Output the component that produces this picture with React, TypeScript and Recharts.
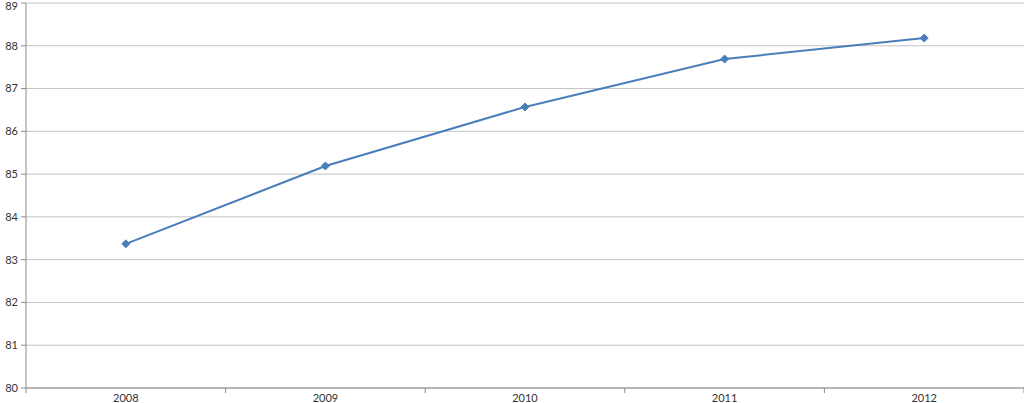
import React from "react";
import { LineChart, Line, XAxis, YAxis, CartesianGrid } from "recharts";

const YEARS = ["2008", "2009", "2010", "2011", "2012"];
const VALUES = [83.37, 85.19, 86.57, 87.69, 88.18];
const Y_TICKS = [80, 81, 82, 83, 84, 85, 86, 87, 88, 89];

const data = YEARS.map((year, i) => ({ year, value: VALUES[i] }));

const W = 1024;
const H = 403;
const LEFT = 26;
const HALF_BAND = (W - LEFT) / YEARS.length / 2;
const FONT = "Lato, 'Open Sans', sans-serif";

function XTick(props: any) {
  const { x, y, payload, index } = props;
  const last = index === YEARS.length - 1;
  return (
    <g>
      <line x1={x - HALF_BAND} x2={x - HALF_BAND} y1={y - 8} y2={y - 3} stroke="#8c8c8c" />
      {last && <line x1={x + HALF_BAND} x2={x + HALF_BAND} y1={y - 8} y2={y - 3} stroke="#8c8c8c" />}
      <text x={x} y={y + 6} textAnchor="middle" fill="#333" fontSize={11} fontFamily={FONT}>
        {payload.value}
      </text>
    </g>
  );
}

function Diamond(props: any) {
  const { cx, cy } = props;
  const r = 4;
  return (
    <polygon
      points={`${cx},${cy - r} ${cx + r},${cy} ${cx},${cy + r} ${cx - r},${cy}`}
      fill="#4a7ebb"
      stroke="#4a7ebb"
    />
  );
}

export default function App() {
  return (
    <div style={{ position: "absolute", left: 0, top: 0, background: "#fff" }}>
      <LineChart width={W} height={H} data={data} margin={{ top: 3, right: 0, bottom: 0, left: 0 }}>
        <CartesianGrid vertical={false} stroke="#c4c4c4" />
        <XAxis
          dataKey="year"
          scale="band"
          height={15}
          tickLine={false}
          axisLine={{ stroke: "#8c8c8c" }}
          tick={<XTick />}
          interval={0}
        />
        <YAxis
          domain={[80, 89]}
          ticks={Y_TICKS}
          width={LEFT}
          tickSize={5}
          tickMargin={3}
          axisLine={{ stroke: "#8c8c8c" }}
          tickLine={{ stroke: "#8c8c8c" }}
          tick={{ fill: "#333", fontSize: 11, fontFamily: FONT }}
        />
        <Line
          dataKey="value"
          stroke="#4a7ebb"
          strokeWidth={2}
          dot={<Diamond />}
          isAnimationActive={false}
        />
      </LineChart>
    </div>
  );
}
